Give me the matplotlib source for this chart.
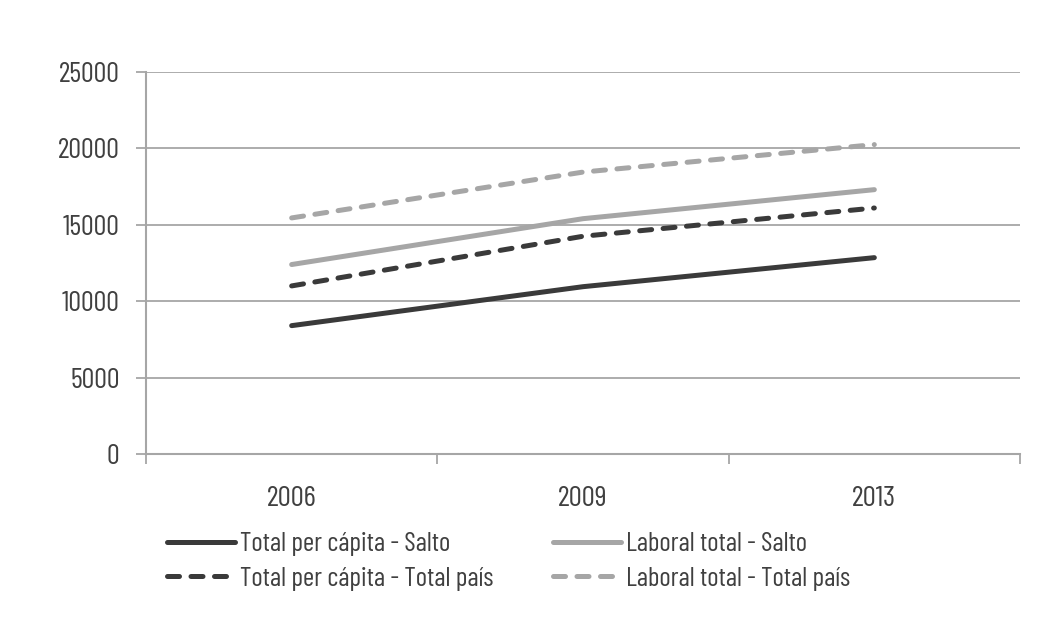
import matplotlib
matplotlib.use("Agg")
import matplotlib.pyplot as plt
from matplotlib.ticker import FixedLocator

plt.rcParams['font.family'] = ['Barlow Condensed', 'DejaVu Sans']

# Data
years = ["2006", "2009", "2013"]
total_pc_salto = [8400, 10950, 12850]
laboral_salto = [12400, 15400, 17300]
total_pc_pais = [11000, 14250, 16100]
laboral_pais = [15450, 18450, 20250]

text_color = "#404040"
grid_color = "#a6a6a6"
dark = "#3a3a3a"
light = "#a6a6a6"

fig = plt.figure(figsize=(10.52, 6.37), dpi=100)
ax = fig.add_axes([146/1052, 1-454/637, (1020-146)/1052, (454-72)/637])

x = range(len(years))
lw = 3.6
ax.plot(x, total_pc_salto, color=dark, lw=lw, solid_capstyle="round",
        label="Total per cápita - Salto")
ax.plot(x, laboral_salto, color=light, lw=lw, solid_capstyle="round",
        label="Laboral total - Salto")
ax.plot(x, total_pc_pais, color=dark, lw=lw, dashes=(2.4, 2.3),
        dash_capstyle="round", label="Total per cápita - Total país")
ax.plot(x, laboral_pais, color=light, lw=lw, dashes=(2.4, 2.3),
        dash_capstyle="round", label="Laboral total - Total país")

ax.set_xlim(-0.5, 2.5)
ax.set_ylim(0, 25000)
ax.set_yticks(range(0, 25001, 5000))
ax.set_xticks(list(x))
ax.set_xticklabels(years)
ax.xaxis.set_minor_locator(FixedLocator([-0.5, 0.5, 1.5, 2.5]))

ax.grid(axis="y", color=grid_color, lw=1.3)
ax.set_axisbelow(True)
for s in ["top", "right"]:
    ax.spines[s].set_visible(False)
for s in ["left", "bottom"]:
    ax.spines[s].set_color(grid_color)
    ax.spines[s].set_linewidth(1.5)

ax.tick_params(axis="y", length=7, width=1.3, color=grid_color, pad=12,
               labelsize=20.5, labelcolor=text_color)
ax.tick_params(axis="x", which="major", length=0, pad=23,
               labelsize=21, labelcolor=text_color)
ax.tick_params(axis="x", which="minor", length=7, width=1.3, color=grid_color)

handles, labels = ax.get_legend_handles_labels()
order = [0, 2, 1, 3]
leg = fig.legend([handles[i] for i in order], [labels[i] for i in order],
                 ncol=2, loc="upper left", bbox_to_anchor=(167/1052, 1-532/637),
                 borderpad=0, borderaxespad=0, frameon=False, fontsize=19.5,
                 handlelength=2.5, handletextpad=0.2, columnspacing=2.2,
                 labelspacing=0.4, labelcolor=text_color)

fig.savefig("out.png", dpi=100, facecolor="white")
